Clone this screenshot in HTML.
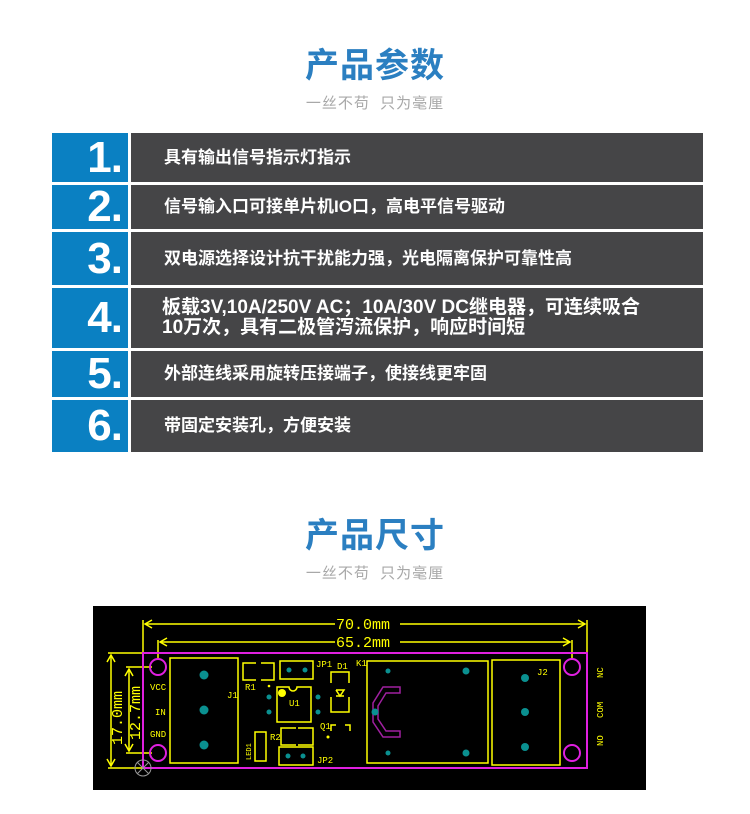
<!DOCTYPE html>
<html><head><meta charset="utf-8"><style>
body{margin:0;width:750px;height:814px;background:#fff;position:relative;overflow:hidden;font-family:"Liberation Sans","Noto Sans CJK SC",sans-serif}
.t{position:absolute;left:0;width:750px;text-align:center;color:#2b7fc1;font-size:34px;font-weight:bold;letter-spacing:1px}
.s{position:absolute;left:0;width:750px;text-align:center;color:#a8a8a8;font-size:15px;letter-spacing:1px}
.n{position:absolute;left:52px;width:76px;background:#0a80c2;color:#fff;font-size:44px;font-weight:bold;display:flex;align-items:center;justify-content:flex-end;padding-right:6px;box-sizing:border-box;letter-spacing:-1px}
.r{position:absolute;left:131px;width:572px;background:#454547;color:#fff;font-size:17px;font-weight:bold;display:flex;align-items:center;padding-left:33px;box-sizing:border-box;line-height:20px}
</style></head><body>
<div class="t" style="top:38px">产品参数</div>
<div class="s" style="top:92px">一丝不苟&nbsp;&nbsp;只为毫厘</div>
<div class="n" style="top:133px;height:49px">1.</div><div class="r" style="top:133px;height:49px">具有输出信号指示灯指示</div>
<div class="n" style="top:185px;height:44px">2.</div><div class="r" style="top:185px;height:44px">信号输入口可接单片机IO口，高电平信号驱动</div>
<div class="n" style="top:232px;height:53px">3.</div><div class="r" style="top:232px;height:53px">双电源选择设计抗干扰能力强，光电隔离保护可靠性高</div>
<div class="n" style="top:288px;height:60px">4.</div><div class="r" style="top:288px;height:60px;font-size:19px;padding-left:31px">板载3V,10A/250V AC；10A/30V DC继电器，可连续吸合<br>10万次，具有二极管泻流保护，响应时间短</div>
<div class="n" style="top:351px;height:46px">5.</div><div class="r" style="top:351px;height:46px">外部连线采用旋转压接端子，使接线更牢固</div>
<div class="n" style="top:400px;height:52px">6.</div><div class="r" style="top:400px;height:52px">带固定安装孔，方便安装</div>
<div class="t" style="top:508px">产品尺寸</div>
<div class="s" style="top:562px">一丝不苟&nbsp;&nbsp;只为毫厘</div>
<svg style="position:absolute;left:0;top:0" width="750" height="814">
<rect x="93" y="606" width="553" height="184" fill="#000"/>
<g stroke="#ffff00" fill="none" stroke-width="1.5">
<line x1="143" y1="620" x2="143" y2="652"/><line x1="587" y1="620" x2="587" y2="652"/>
<line x1="145" y1="624" x2="335" y2="624"/><line x1="400" y1="624" x2="585" y2="624"/>
<polyline points="152,620 145,624 152,628"/><polyline points="578,620 585,624 578,628"/>
<line x1="158" y1="640" x2="158" y2="660"/><line x1="572" y1="640" x2="572" y2="660"/>
<line x1="160" y1="642" x2="335" y2="642"/><line x1="400" y1="642" x2="570" y2="642"/>
<polyline points="167,638 160,642 167,646"/><polyline points="563,638 570,642 563,646"/>
<line x1="108" y1="653" x2="143" y2="653"/><line x1="108" y1="768" x2="143" y2="768"/>
<line x1="111" y1="655" x2="111" y2="766"/><polyline points="107,662 111,655 115,662"/><polyline points="107,759 111,766 115,759"/>
<line x1="126" y1="667" x2="152" y2="667"/><line x1="126" y1="753" x2="152" y2="753"/>
<line x1="129" y1="669" x2="129" y2="751"/><polyline points="125,676 129,669 133,676"/><polyline points="125,744 129,751 133,744"/>
<rect x="170" y="658" width="68" height="105"/>
<polyline points="256,663 243,663 243,680 256,680"/><polyline points="261,663 274,663 274,680 261,680"/>
<rect x="280" y="661" width="33" height="18"/>
<path d="M277 687 L289 687 A4 4 0 0 0 297 687 L311 687 L311 722 L277 722 Z"/>
<polyline points="331,683 331,672 349,672 349,683"/><polyline points="331,697 331,712 349,712 349,697"/>
<polyline points="336,690 344,690 340,696 336,690"/><line x1="336" y1="696" x2="344" y2="696"/>
<polyline points="331,731 331,725 336,725"/><polyline points="345,725 350,725 350,731"/>
<polyline points="296,728 281,728 281,745 296,745"/><polyline points="298,728 313,728 313,745 298,745"/>
<rect x="279" y="747" width="34" height="18"/>
<rect x="255" y="732" width="11" height="29"/>
<rect x="367" y="661" width="121" height="102"/>
<rect x="492" y="660" width="68" height="105"/>
</g>
<path d="M400 687 L383 687 L373 703 L373 722 L383 737 L400 737 L400 731 L386 731 L378 719 L378 706 L386 693 L400 693 Z" fill="none" stroke="#a020a0" stroke-width="1.5"/>
<rect x="143" y="653" width="444" height="115" fill="none" stroke="#e020e0" stroke-width="2"/>
<g fill="none" stroke="#e020e0" stroke-width="2"><circle cx="158" cy="667" r="8"/><circle cx="158" cy="753" r="8"/><circle cx="572" cy="667" r="8"/><circle cx="572" cy="753" r="8"/></g>
<g fill="#0a9090"><circle cx="204" cy="675" r="4.5"/><circle cx="204" cy="710" r="4.5"/><circle cx="204" cy="745" r="4.5"/>
<circle cx="289" cy="670" r="2.5"/><circle cx="305" cy="670" r="2.5"/><circle cx="269" cy="697" r="2.5"/><circle cx="269" cy="712" r="2.5"/><circle cx="318" cy="697" r="2.5"/><circle cx="318" cy="712" r="2.5"/>
<circle cx="288" cy="756" r="2.5"/><circle cx="303" cy="756" r="2.5"/><circle cx="388" cy="671" r="2.5"/><circle cx="466" cy="671" r="3.5"/><circle cx="375" cy="712" r="3.5"/><circle cx="388" cy="753" r="2.5"/><circle cx="466" cy="753" r="3.5"/>
<circle cx="525" cy="678" r="4"/><circle cx="525" cy="712" r="4"/><circle cx="525" cy="747" r="4"/></g>
<circle cx="282" cy="693" r="4" fill="#ffff00"/><circle cx="269" cy="686" r="1.3" fill="#ffff00"/><circle cx="328" cy="737" r="1.5" fill="#ffff00"/>
<g fill="#ffff00" font-family="Liberation Mono,monospace" font-size="9">
<text x="150" y="690">VCC</text><text x="155" y="715">IN</text><text x="150" y="737">GND</text>
<text x="227" y="698">J1</text><text x="245" y="690">R1</text><text x="316" y="667">JP1</text><text x="337" y="669">D1</text><text x="356" y="666">K1</text>
<text x="289" y="706">U1</text><text x="320" y="729">Q1</text><text x="270" y="740">R2</text><text x="317" y="763">JP2</text><text x="537" y="675">J2</text>
<text transform="translate(603,678) rotate(-90)">NC</text><text transform="translate(603,718) rotate(-90)">COM</text><text transform="translate(603,746) rotate(-90)">NO</text>
<text transform="translate(251,760) rotate(-90)" font-size="7">LED1</text>
</g>
<g fill="#ffff00" font-family="Liberation Mono,monospace" font-size="15">
<text x="336" y="629">70.0mm</text><text x="336" y="647">65.2mm</text>
<text transform="translate(122,745) rotate(-90)">17.0mm</text><text transform="translate(140,740) rotate(-90)">12.7mm</text>
</g>
<g stroke="#999" fill="none"><circle cx="143" cy="768" r="8"/><line x1="137" y1="762" x2="149" y2="774"/><line x1="149" y1="762" x2="137" y2="774"/></g>
</svg>
</body></html>
